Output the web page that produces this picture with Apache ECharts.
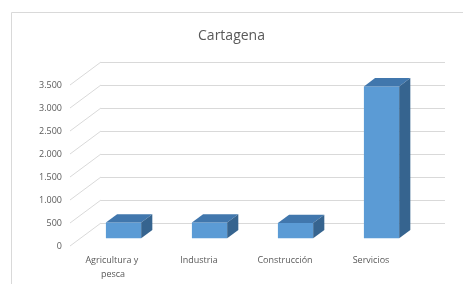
<!DOCTYPE html>
<html>
<head>
<meta charset="utf-8">
<script src="https://cdn.jsdelivr.net/npm/echarts@6/dist/echarts.min.js"></script>
<style>
  html, body { margin: 0; padding: 0; background: #fff; }
  #chart { width: 463px; height: 284px; }
</style>
</head>
<body>
<div id="chart"></div>
<script>
// Datos
const categorias = ['Agricultura y pesca', 'Industria', 'Construcción', 'Servicios'];
const valores = [340, 340, 330, 3300];
const ticks = [0, 500, 1000, 1500, 2000, 2500, 3000, 3500];

// Profundidad del "3D": desplazamiento del plano frontal respecto a la pared del fondo
const prof = [-31, 23];
const caraFrontal = 0.66;
const caraTrasera = 0.3;

const fondo = { left: 101, right: 18, top: 62, bottom: 61 };
const frente = {
  left: fondo.left + prof[0], right: fondo.right - prof[0],
  top: fondo.top + prof[1], bottom: fondo.bottom - prof[1]
};

const grafico = echarts.init(document.getElementById('chart'));

function dibujarBarra(params, api) {
  const banda = api.size([1, 0])[0];
  const w = banda * 0.41;
  const arriba = api.coord([api.value(0), api.value(1)]);
  const abajo = api.coord([api.value(0), 0]);
  const fx = prof[0] * caraFrontal, fy = prof[1] * caraFrontal;
  const dx = prof[0] * (caraTrasera - caraFrontal), dy = prof[1] * (caraTrasera - caraFrontal);
  const x0 = arriba[0] + fx - w / 2, x1 = x0 + w;
  const y0 = arriba[1] + fy, y1 = abajo[1] + fy;
  return {
    type: 'group',
    children: [
      { type: 'rect', shape: { x: x0, y: y0, width: w, height: y1 - y0 },
        style: { fill: '#5b9bd5' } },
      { type: 'polygon', shape: { points: [[x0, y0], [x1, y0], [x1 + dx, y0 + dy], [x0 + dx, y0 + dy]] },
        style: { fill: '#4177ad' } },
      { type: 'polygon', shape: { points: [[x1, y0], [x1 + dx, y0 + dy], [x1 + dx, y1 + dy], [x1, y1]] },
        style: { fill: '#36648f' } }
    ]
  };
}

function dibujarDiagonal(params, api) {
  const y = api.coord([0, api.value(0)])[1];
  const x = params.coordSys.x;
  return {
    type: 'line',
    shape: { x1: x + prof[0], y1: y + prof[1], x2: x, y2: y },
    style: { stroke: '#d9d9d9', lineWidth: 1 }
  };
}

const textoGris = { color: '#595959', fontFamily: 'Open Sans', fontSize: 9 };

let option = {
  animation: false,
  title: {
    text: 'Cartagena',
    left: 'center',
    top: 24,
    textStyle: { color: '#595959', fontFamily: 'Open Sans', fontSize: 14, fontWeight: 'normal' }
  },
  graphic: [{
    type: 'rect', silent: true,
    shape: { x: 11.5, y: 12.5, width: 470, height: 290 },
    style: { fill: 'none', stroke: '#d9d9d9', lineWidth: 1 }
  }],
  grid: [
    Object.assign({}, fondo),
    Object.assign({}, frente)
  ],
  xAxis: [
    { gridIndex: 0, type: 'category', data: categorias, show: false },
    { gridIndex: 1, type: 'category', data: categorias,
      axisLine: { show: false }, axisTick: { show: false },
      axisLabel: Object.assign({ margin: 7, interval: 0, width: 70, overflow: 'break', lineHeight: 14 }, textoGris) }
  ],
  yAxis: [
    { gridIndex: 0, type: 'value', min: 0, max: 3500, interval: 500,
      axisLine: { show: false }, axisTick: { show: false }, axisLabel: { show: false },
      splitLine: { lineStyle: { color: '#d9d9d9', width: 1 } } },
    { gridIndex: 1, type: 'value', min: 0, max: 3500, interval: 500,
      axisLine: { show: false }, axisTick: { show: false }, splitLine: { show: false },
      axisLabel: Object.assign({
        margin: 8,
        formatter: v => v.toLocaleString('es-ES', { useGrouping: 'always' })
      }, textoGris) }
  ],
  series: [
    { type: 'custom', xAxisIndex: 0, yAxisIndex: 0, renderItem: dibujarDiagonal,
      data: ticks.map(t => [t]), silent: true, z: 1 },
    { type: 'custom', xAxisIndex: 0, yAxisIndex: 0, renderItem: dibujarBarra,
      data: valores.map((v, i) => [i, v]), z: 2 }
  ]
};

grafico.setOption(option);
</script>
</body>
</html>
